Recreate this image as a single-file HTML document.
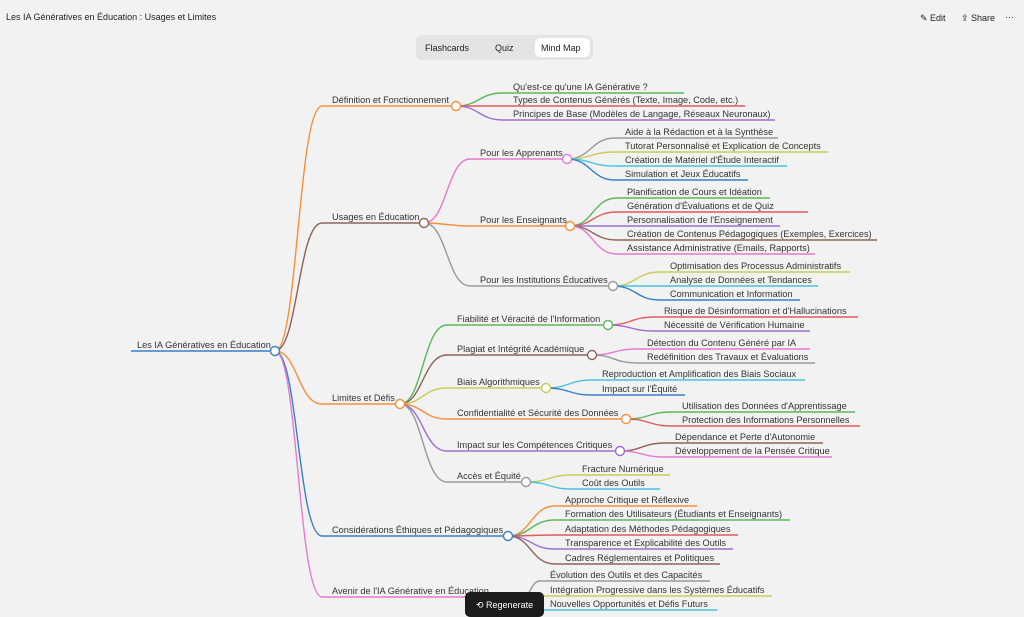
<!DOCTYPE html>
<html><head><meta charset="utf-8"><style>
body{margin:0;width:1024px;height:617px;overflow:hidden;background:#f2f2f2;font-family:"Liberation Sans",sans-serif;}
svg{position:absolute;left:0;top:0}
svg text{font-family:"Liberation Sans",sans-serif;font-size:9.2px;fill:#333}
path{fill:none;stroke-width:1.4}
circle{fill:#fff;stroke-width:1.4}
</style></head><body>
<svg width="1024" height="617" viewBox="0 0 1024 617">
<text x="6" y="20" style="font-size:9px;fill:#222">Les IA Génératives en Éducation : Usages et Limites</text>
<text x="920" y="21" style="font-size:9px;fill:#222">✎ Edit</text>
<text x="961" y="21" style="font-size:9px;fill:#222">⇪ Share</text>
<text x="1005" y="20" style="font-size:9px;fill:#222">···</text>
<rect x="416" y="35" width="177" height="25" rx="6" fill="#e4e4e4"/>
<rect x="535" y="38" width="55" height="19" rx="5" fill="#fff"/>
<text x="425" y="51" style="font-size:9px;fill:#222">Flashcards</text>
<text x="495" y="51" style="font-size:9px;fill:#222">Quiz</text>
<text x="541" y="51" style="font-size:9px;fill:#222">Mind Map</text>

<path d="M131 351 H275" stroke="#3a7fc4"/>
<text x="137" y="348">Les IA Génératives en Éducation</text>
<path d="M275 351 C298 351 298 106 322 106 H456" stroke="#f7903a"/>
<path d="M275 351 C298 351 298 223 322 223 H424" stroke="#8f6458"/>
<path d="M275 351 C298 351 298 404 322 404 H400" stroke="#f7903a"/>
<path d="M275 351 C298 351 298 536 322 536 H508" stroke="#3a7fc4"/>
<path d="M275 351 C298 351 298 597 322 597 H522" stroke="#e57ad0"/>
<text x="332" y="103">Définition et Fonctionnement</text>
<text x="332" y="220">Usages en Éducation</text>
<text x="332" y="401">Limites et Défis</text>
<text x="332" y="533">Considérations Éthiques et Pédagogiques</text>
<text x="332" y="594">Avenir de l'IA Générative en Éducation</text>

<path d="M456 106 C479 106 479 93 503 93 H684" stroke="#5cb85c"/>
<path d="M456 106 C479 106 479 106 503 106 H745" stroke="#e05a5a"/>
<path d="M456 106 C479 106 479 120 503 120 H775" stroke="#9b6fd0"/>
<text x="513" y="90">Qu'est-ce qu'une IA Générative ?</text>
<text x="513" y="103">Types de Contenus Générés (Texte, Image, Code, etc.)</text>
<text x="513" y="117">Principes de Base (Modèles de Langage, Réseaux Neuronaux)</text>

<path d="M424 223 C447 223 447 159 470 159 H567" stroke="#e57ad0"/>
<path d="M424 223 C447 223 447 226 470 226 H570" stroke="#f7903a"/>
<path d="M424 223 C447 223 447 286 470 286 H613" stroke="#999"/>
<text x="480" y="156">Pour les Apprenants</text>
<text x="480" y="223">Pour les Enseignants</text>
<text x="480" y="283">Pour les Institutions Éducatives</text>

<path d="M567 159 C591 159 591 138 615 138 H778" stroke="#999"/>
<path d="M567 159 C591 159 591 152 615 152 H828" stroke="#c9cc55"/>
<path d="M567 159 C591 159 591 166 615 166 H787" stroke="#45c3db"/>
<path d="M567 159 C591 159 591 180 615 180 H748" stroke="#3a7fc4"/>
<text x="625" y="135">Aide à la Rédaction et à la Synthèse</text>
<text x="625" y="149">Tutorat Personnalisé et Explication de Concepts</text>
<text x="625" y="163">Création de Matériel d'Étude Interactif</text>
<text x="625" y="177">Simulation et Jeux Éducatifs</text>

<path d="M570 226 C593 226 593 198 617 198 H770" stroke="#5cb85c"/>
<path d="M570 226 C593 226 593 212 617 212 H808" stroke="#e05a5a"/>
<path d="M570 226 C593 226 593 226 617 226 H780" stroke="#9b6fd0"/>
<path d="M570 226 C593 226 593 240 617 240 H877" stroke="#8f6458"/>
<path d="M570 226 C593 226 593 254 617 254 H815" stroke="#e57ad0"/>
<text x="627" y="195">Planification de Cours et Idéation</text>
<text x="627" y="209">Génération d'Évaluations et de Quiz</text>
<text x="627" y="223">Personnalisation de l'Enseignement</text>
<text x="627" y="237">Création de Contenus Pédagogiques (Exemples, Exercices)</text>
<text x="627" y="251">Assistance Administrative (Emails, Rapports)</text>

<path d="M613 286 C636 286 636 272 660 272 H850" stroke="#c9cc55"/>
<path d="M613 286 C636 286 636 286 660 286 H818" stroke="#45c3db"/>
<path d="M613 286 C636 286 636 300 660 300 H800" stroke="#3a7fc4"/>
<text x="670" y="269">Optimisation des Processus Administratifs</text>
<text x="670" y="283">Analyse de Données et Tendances</text>
<text x="670" y="297">Communication et Information</text>

<path d="M400 404 C423 404 423 325 447 325 H608" stroke="#5cb85c"/>
<path d="M400 404 C423 404 423 355 447 355 H592" stroke="#8f6458"/>
<path d="M400 404 C423 404 423 388 447 388 H546" stroke="#c9cc55"/>
<path d="M400 404 C423 404 423 419 447 419 H626" stroke="#f7903a"/>
<path d="M400 404 C423 404 423 451 447 451 H620" stroke="#9b6fd0"/>
<path d="M400 404 C423 404 423 482 447 482 H526" stroke="#999"/>
<text x="457" y="322">Fiabilité et Véracité de l'Information</text>
<text x="457" y="352">Plagiat et Intégrité Académique</text>
<text x="457" y="385">Biais Algorithmiques</text>
<text x="457" y="416">Confidentialité et Sécurité des Données</text>
<text x="457" y="448">Impact sur les Compétences Critiques</text>
<text x="457" y="479">Accès et Équité</text>

<path d="M608 325 C631 325 631 317 654 317 H858" stroke="#e05a5a"/>
<path d="M608 325 C631 325 631 331 654 331 H810" stroke="#9b6fd0"/>
<text x="664" y="314">Risque de Désinformation et d'Hallucinations</text>
<text x="664" y="328">Nécessité de Vérification Humaine</text>

<path d="M592 355 C614 355 614 349 637 349 H810" stroke="#e57ad0"/>
<path d="M592 355 C614 355 614 363 637 363 H815" stroke="#999"/>
<text x="647" y="346">Détection du Contenu Généré par IA</text>
<text x="647" y="360">Redéfinition des Travaux et Évaluations</text>

<path d="M546 388 C569 388 569 380 592 380 H805" stroke="#45c3db"/>
<path d="M546 388 C569 388 569 395 592 395 H685" stroke="#3a7fc4"/>
<text x="602" y="377">Reproduction et Amplification des Biais Sociaux</text>
<text x="602" y="392">Impact sur l'Équité</text>

<path d="M626 419 C649 419 649 412 672 412 H855" stroke="#5cb85c"/>
<path d="M626 419 C649 419 649 426 672 426 H860" stroke="#e05a5a"/>
<text x="682" y="409">Utilisation des Données d'Apprentissage</text>
<text x="682" y="423">Protection des Informations Personnelles</text>

<path d="M620 451 C642 451 642 443 665 443 H823" stroke="#8f6458"/>
<path d="M620 451 C642 451 642 457 665 457 H832" stroke="#e57ad0"/>
<text x="675" y="440">Dépendance et Perte d'Autonomie</text>
<text x="675" y="454">Développement de la Pensée Critique</text>

<path d="M526 482 C549 482 549 475 572 475 H670" stroke="#c9cc55"/>
<path d="M526 482 C549 482 549 489 572 489 H660" stroke="#45c3db"/>
<text x="582" y="472">Fracture Numérique</text>
<text x="582" y="486">Coût des Outils</text>

<path d="M508 536 C531 536 531 506 555 506 H697" stroke="#f7903a"/>
<path d="M508 536 C531 536 531 520 555 520 H790" stroke="#5cb85c"/>
<path d="M508 536 C531 536 531 535 555 535 H738" stroke="#e05a5a"/>
<path d="M508 536 C531 536 531 549 555 549 H733" stroke="#9b6fd0"/>
<path d="M508 536 C531 536 531 564 555 564 H720" stroke="#8f6458"/>
<text x="565" y="503">Approche Critique et Réflexive</text>
<text x="565" y="517">Formation des Utilisateurs (Étudiants et Enseignants)</text>
<text x="565" y="532">Adaptation des Méthodes Pédagogiques</text>
<text x="565" y="546">Transparence et Explicabilité des Outils</text>
<text x="565" y="561">Cadres Réglementaires et Politiques</text>

<path d="M522 597 C531 597 531 581 540 581 H710" stroke="#999"/>
<path d="M522 597 C531 597 531 596 540 596 H772" stroke="#c9cc55"/>
<path d="M522 597 C531 597 531 610 540 610 H717" stroke="#45c3db"/>
<text x="550" y="578">Évolution des Outils et des Capacités</text>
<text x="550" y="593">Intégration Progressive dans les Systèmes Éducatifs</text>
<text x="550" y="607">Nouvelles Opportunités et Défis Futurs</text>

<circle cx="275" cy="351" r="4.5" stroke="#3a7fc4"/>
<circle cx="456" cy="106" r="4.5" stroke="#f7903a"/>
<circle cx="424" cy="223" r="4.5" stroke="#8f6458"/>
<circle cx="400" cy="404" r="4.5" stroke="#f7903a"/>
<circle cx="508" cy="536" r="4.5" stroke="#3a7fc4"/>
<circle cx="522" cy="597" r="4.5" stroke="#e57ad0"/>
<circle cx="567" cy="159" r="4.5" stroke="#e57ad0"/>
<circle cx="570" cy="226" r="4.5" stroke="#f7903a"/>
<circle cx="613" cy="286" r="4.5" stroke="#999"/>
<circle cx="608" cy="325" r="4.5" stroke="#5cb85c"/>
<circle cx="592" cy="355" r="4.5" stroke="#8f6458"/>
<circle cx="546" cy="388" r="4.5" stroke="#c9cc55"/>
<circle cx="626" cy="419" r="4.5" stroke="#f7903a"/>
<circle cx="620" cy="451" r="4.5" stroke="#9b6fd0"/>
<circle cx="526" cy="482" r="4.5" stroke="#999"/>

<rect x="465" y="592" width="79" height="25" rx="5" fill="#1c1c1c"/>
<text x="476" y="608" style="font-size:9px;fill:#fff">⟲ Regenerate</text>
</svg>
</body></html>
